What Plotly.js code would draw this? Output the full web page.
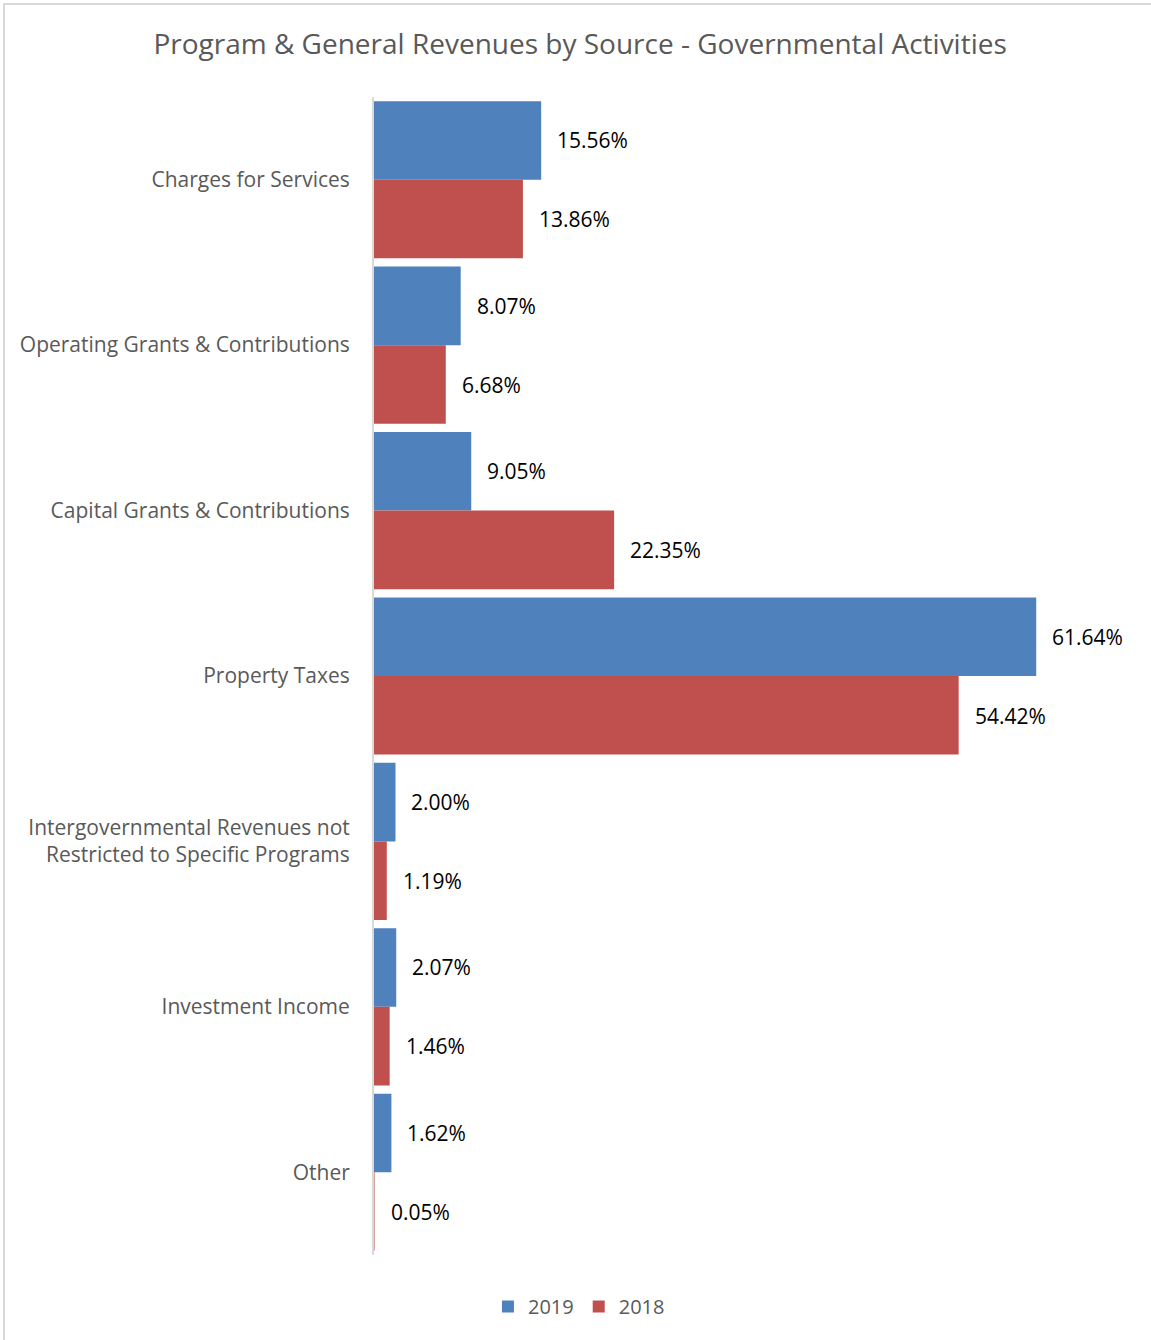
<!DOCTYPE html>
<html><head><meta charset="utf-8">
<script src="https://cdn.plot.ly/plotly-3.0.1.min.js"></script>
<style>
html,body{margin:0;padding:0;background:#fff;}
#wrap{position:relative;width:1151px;height:1340px;overflow:hidden;}
#chart{position:absolute;left:0;top:0;width:1151px;height:1340px;}
#frame{position:absolute;left:3px;top:3px;width:1160px;height:1350px;border:2px solid #d9d9d9;pointer-events:none;box-sizing:border-box;}
</style></head>
<body>
<div id="wrap"><div id="chart"></div><div id="frame"></div></div>
<script>
const categories = [
  "Charges for Services",
  "Operating Grants & Contributions",
  "Capital Grants & Contributions",
  "Property Taxes",
  "Intergovernmental Revenues not<br>Restricted to Specific Programs",
  "Investment Income",
  "Other"
];
const values2019 = [15.56, 8.07, 9.05, 61.64, 2.00, 2.07, 1.62];
const values2018 = [13.86, 6.68, 22.35, 54.42, 1.19, 1.46, 0.05];
const seriesNames = ["2019", "2018"];
const colors = ["#4F81BD", "#C0504D"];

const FONT = "Open Sans, sans-serif";
const traces = [values2019, values2018].map((vals, i) => ({
  type: "bar", orientation: "h", name: seriesNames[i],
  x: vals, y: categories,
  marker: {color: colors[i]},
  hoverinfo: "x+y"
}));

const annotations = [];
[values2019, values2018].forEach((vals, i) => {
  vals.forEach((v, j) => {
    annotations.push({
      x: v, y: categories[j], xref: "x", yref: "y",
      text: v.toFixed(2) + "%", showarrow: false,
      xanchor: "left", xshift: 14, yshift: i === 0 ? 39.5 : -39.5,
      font: {family: FONT, size: 21, color: "#000"}
    });
  });
});

const layout = {
  width: 1151, height: 1340,
  paper_bgcolor: "#fff", plot_bgcolor: "#fff",
  margin: {l: 374, r: 11, t: 97, b: 85},
  title: {text: "Program & General Revenues by Source - Governmental Activities",
          font: {family: FONT, size: 28, color: "#595959"},
          x: 0.504, xref: "container", xanchor: "center", y: 0.967, yanchor: "middle"},
  barmode: "group", bargap: 0.05, bargroupgap: 0,
  xaxis: {range: [0, 71.3], showgrid: false, zeroline: false, showticklabels: false,
          showline: false, ticks: ""},
  yaxis: {autorange: "reversed", showgrid: false, zeroline: false, showline: true,
          linecolor: "#d9d9d9", linewidth: 2, ticks: "", ticklabelstandoff: 18,
          tickfont: {family: FONT, size: 21, color: "#595959"}},
  legend: {orientation: "h", xref: "container", x: 0.503, xanchor: "center",
           yref: "container", y: 0.025, yanchor: "middle",
           font: {family: FONT, size: 20, color: "#595959"}, itemwidth: 30},
  annotations: annotations,
  showlegend: true
};
Plotly.newPlot("chart", traces, layout, {displayModeBar: false, staticPlot: true});
</script>
</body></html>
